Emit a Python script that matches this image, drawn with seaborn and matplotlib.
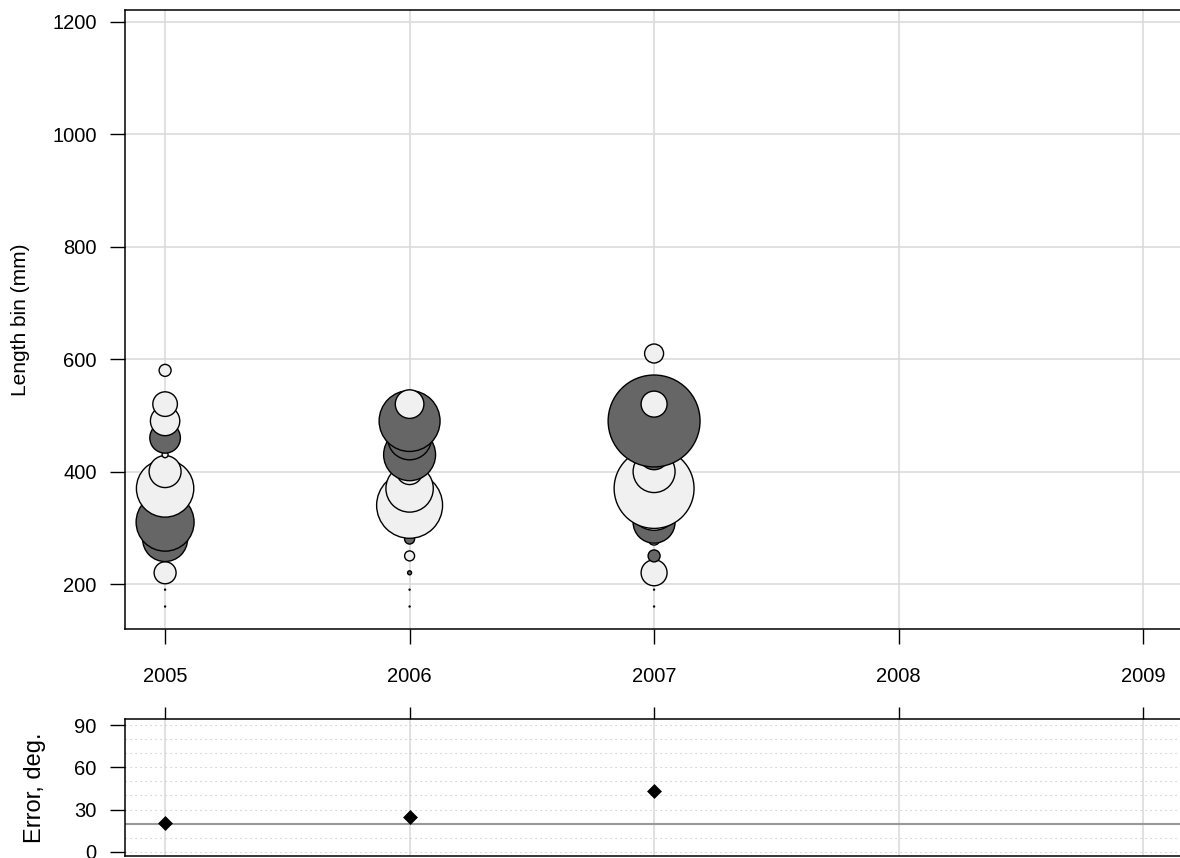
import numpy as np
import pandas as pd
import matplotlib
matplotlib.use("Agg")
import matplotlib.pyplot as plt
import seaborn as sns

# length comp residuals, one row per bubble (sign -> colour, size -> |resid|)
year = ([2005] * 12) + ([2006] * 12) + ([2007] * 14)
length_bin = [160, 190, 220, 280, 310, 370, 400, 430, 460, 490, 520, 580,
              160, 190, 220, 250, 280, 340, 370, 400, 430, 460, 490, 520,
              160, 190, 220, 250, 280, 310, 340, 370, 400, 430, 460, 490, 520, 610]
resid = [0.05, 0.05, -1.1, 2.25, 2.9, -2.87, -1.6, -0.3, 1.53, -1.47, -1.23, -0.6,
         0.05, 0.05, 0.2, -0.5, 0.5, -3.3, -2.37, -1.3, 2.6, 2.2, 3.05, -1.43,
         0.05, 0.05, -1.3, 0.6, -0.6, 2.1, -2.5, -4.0, -2.1, 1.5, 2.0, 4.6, -1.3, -0.95]

# angle error panel
err_year = [2005, 2006, 2007]
err_deg = [20.5, 25, 43]
err_ref = 20

year_ticks = [2005, 2006, 2007, 2008, 2009]
len_ticks = [200, 400, 600, 800, 1000, 1200]
err_ticks = [0, 30, 60, 90]

df = pd.DataFrame({"year": year, "len": length_bin, "resid": resid})
df["sign"] = np.where(df["resid"] > 0, "pos", "neg")
df["area"] = df["resid"] ** 2

sns.set_style("white")
plt.rcParams["font.family"] = ["Liberation Sans", "DejaVu Sans"]
plt.rcParams["text.color"] = "black"
plt.rcParams["axes.labelcolor"] = "black"
plt.rcParams["xtick.color"] = "black"
plt.rcParams["ytick.color"] = "black"

W, H = 1180, 858
fig = plt.figure(figsize=(W / 100, H / 100), dpi=100)
ax1 = fig.add_axes([125 / W, (H - 629) / H, 1 - 125 / W, 619 / H])
ax2 = fig.add_axes([125 / W, 2 / H, 1 - 125 / W, 137 / H])

# --- top panel: bubbles
sns.scatterplot(data=df, x="year", y="len", hue="sign", size="area",
                palette={"pos": "#666666", "neg": "#f0f0f0"},
                sizes=(0, 207 * 25), size_norm=(0, 25),
                edgecolor="black", linewidth=1.0, legend=False, ax=ax1, zorder=3)
ax1.set_xlim(2004.836, 2009.151)
ax1.set_ylim(120, 1221)
ax1.set_xticks(year_ticks)
ax1.set_yticks(len_ticks)
ax1.grid(True, color="#d9d9d9", lw=1.1)
ax1.set_axisbelow(True)
ax1.spines["right"].set_visible(False)
for s in ["left", "top", "bottom"]:
    ax1.spines[s].set_linewidth(1.1)
    ax1.spines[s].set_color("black")
ax1.tick_params(axis="both", direction="out", length=10.5, width=1.0,
                color="black", labelcolor="black", labelsize=14.5, left=True, bottom=True)
ax1.tick_params(axis="y", pad=10)
ax1.tick_params(axis="x", pad=17)
ax1.set_xlabel("")
ax1.set_ylabel("Length bin (mm)", fontsize=15, labelpad=16)

# --- bottom panel: angle error
ax2.set_xlim(2004.836, 2009.151)
ax2.set_ylim(-3, 94.3)
ax2.set_yticks(err_ticks)
ax2.set_yticks(np.arange(0, 91, 10), minor=True)
ax2.set_xticks(year_ticks)
ax2.grid(axis="y", which="both", ls=(0, (1, 3.5)), color="#c0c0c0", lw=0.8)
ax2.grid(axis="x", which="major", color="#d9d9d9", lw=1.1)
ax2.set_axisbelow(True)
ax2.axhline(err_ref, color="#999999", lw=1.5, zorder=2)
sns.scatterplot(x=err_year, y=err_deg, marker="D", color="black", s=50,
                edgecolor="black", linewidth=0.5, ax=ax2, zorder=3, legend=False)
ax2.xaxis.tick_top()
ax2.tick_params(axis="x", top=True, bottom=False, labeltop=False, labelbottom=False,
                direction="out", length=8.6, width=1.0, color="black")
ax2.tick_params(axis="y", which="major", left=True, direction="out", length=10.5,
                width=1.0, color="black", labelcolor="black", labelsize=14.5, pad=10)
ax2.tick_params(axis="y", which="minor", left=False, length=0)
ax2.spines["right"].set_visible(False)
for s in ["left", "top", "bottom"]:
    ax2.spines[s].set_linewidth(1.1)
    ax2.spines[s].set_color("black")
ax2.set_ylabel("Error, deg.", fontsize=17, labelpad=20)

fig.savefig("out.png", dpi=100)
